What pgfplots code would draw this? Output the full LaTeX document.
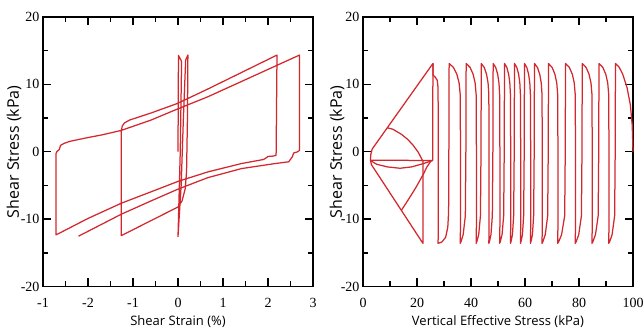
\documentclass[border=0pt]{standalone}
\usepackage{pgfplots}
\pgfplotsset{compat=1.18}
\usepackage{fontspec}
\setmainfont{Liberation Serif}
\newfontfamily\labelfont{Open Sans}
\definecolor{curve}{RGB}{210,40,45}
\pgfplotsset{
  myax/.style={
    scale only axis, width=270pt, height=269.5pt,
    ymin=-20, ymax=20, ytick={-20,-10,0,10,20}, yticklabels={-20,-10,0,10,20},
    tick align=inside, major tick length=8pt, minor tick length=5pt,
    every tick/.append style={line width=1.5pt, draw=black},
    axis line style={line width=1.4pt},
    ticklabel style={font=\fontsize{14}{14}\selectfont},
    xticklabel style={yshift=-8pt},
    xlabel style={font=\labelfont\fontsize{13}{13}\selectfont, at={(axis description cs:0.5,-0.13)}, anchor=center},
    ylabel style={font=\labelfont\fontsize{16}{16}\selectfont, anchor=center},
    clip=false,
  },
  mycurve/.style={curve, line width=1.25pt, mark=none, line join=round},
  tickfill/.style={fill=black, draw=none, mark=none, forget plot},
}
% vertical tick as a thin filled bar: x, half width, y0, y1
\newcommand{\vtick}[4]{\addplot[tickfill] table[row sep=\\, x expr=\thisrow{a}+(#1), y=b] {a b\\ -#2 #3\\ #2 #3\\ #2 #4\\ -#2 #4\\};}
% horizontal tick as a thin filled bar: y, half height, x0, x1
\newcommand{\htick}[4]{\addplot[tickfill] table[row sep=\\, x=a, y expr=\thisrow{b}+(#1)] {a b\\ #3 -#2\\ #4 -#2\\ #4 #2\\ #3 #2\\};}
\begin{document}
\begin{tikzpicture}
\path (0,0) rectangle (644pt,336pt);
\begin{axis}[myax, at={(43pt,49.5pt)}, anchor=south west,
  xmin=-3, xmax=3, xtick={-3,-2,-1,0,1,2,3}, xticklabels={-1,-2,-1,0,1,2,3},
  minor xtick={-2.5,-1.5,-0.5,0.5,1.5,2.5}, minor ytick={-15,-5,5,15},
  xlabel={Shear Strain (\%)}, ylabel={Shear Stress (kPa)},
  ylabel style={at={(axis description cs:-0.107,0.5)}}]
\pgfplotsinvokeforeach{-2,-1,0,1,2}{\vtick{#1}{0.0167}{-20}{-18.81}\vtick{#1}{0.0167}{20}{18.81}}
\pgfplotsinvokeforeach{-2.5,-1.5,-0.5,0.5,1.5,2.5}{\vtick{#1}{0.0167}{-20}{-19.26}\vtick{#1}{0.0167}{20}{19.26}}
\pgfplotsinvokeforeach{-10,0,10}{\htick{#1}{0.111}{-3}{-2.822}\htick{#1}{0.111}{3}{2.822}}
\pgfplotsinvokeforeach{-15,-5,5,15}{\htick{#1}{0.111}{-3}{-2.889}\htick{#1}{0.111}{3}{2.889}}
\addplot[mycurve] coordinates {
(0,0) (0.01,14.3) (0.08,13.4) (0.05,0) (0.0,-12.6) (0.07,-5) (0.12,5) (0.17,13.6)
(0.22,14.35) (0.21,5) (0.19,-3) (0.16,-5.5) (0.09,-7.3) (0.0,-8.2) (-1.26,-12.45)
(-1.26,3.0) (-1.24,3.8) (-1.19,4.28) (-1.07,4.72) (-0.6,5.75) (-0.02,7.15) (0.66,9.3) (2.2,14.35)
(2.18,-0.55) (2.1,-0.65) (2.0,-0.7) (1.95,-0.95) (1.9,-1.15) (1.41,-1.75) (0.66,-3.0) (0.0,-4.4)
(-0.6,-5.95) (-1.26,-7.64) (-2.0,-9.9) (-2.71,-12.34)
(-2.71,-0.25) (-2.69,0.05) (-2.64,0.3) (-2.61,0.95) (-2.53,1.25) (-2.4,1.55) (-2.05,2.04)
(-1.67,2.53) (-1.26,3.17) (-0.6,4.7) (-0.02,6.32) (0.66,8.15) (1.5,10.7) (2.7,14.35)
(2.7,0.2) (2.65,-0.03) (2.57,-0.18) (2.54,-0.76) (2.46,-1.49) (2.16,-1.75) (1.41,-2.5)
(0.66,-3.85) (0.0,-5.55) (-0.6,-7.3) (-1.26,-9.27) (-2.21,-12.53)
};
\end{axis}
\begin{axis}[myax, at={(363pt,49.5pt)}, anchor=south west,
  xmin=0, xmax=100, xtick={0,20,40,60,80,100}, xticklabels={0,20,40,60,80,100},
  minor xtick={10,30,50,70,90}, minor ytick={-15,-5,5,15},
  xlabel={Vertical Effective Stress (kPa)}, ylabel={Shear Stress (kPa)},
  ylabel style={at={(axis description cs:-0.096,0.5)}}]
\pgfplotsinvokeforeach{20,40,60,80}{\vtick{#1}{0.278}{-20}{-18.81}\vtick{#1}{0.278}{20}{18.81}}
\pgfplotsinvokeforeach{10,30,50,70,90}{\vtick{#1}{0.278}{-20}{-19.26}\vtick{#1}{0.278}{20}{19.26}}
\pgfplotsinvokeforeach{-10,0,10}{\htick{#1}{0.111}{0}{2.963}\htick{#1}{0.111}{100}{97.04}}
\pgfplotsinvokeforeach{-15,-5,5,15}{\htick{#1}{0.111}{0}{1.852}\htick{#1}{0.111}{100}{98.15}}
\addplot[mycurve] coordinates {
(100,0) (99.7,4) (99.0,7) (97.8,9.5) (96.2,11.5) (94.8,12.6) (93.5,13.1)
(93.4,0) (93.2,-9.5) (92.25,-12.3) (91.4,-13.3) (91.0,-13.6)
(91.1,-11) (91.1,0) (91.0,8.5) (90.64,10.2) (89.92,11.5) (88.84,12.5) (87.4,13.1)
(87.3,0) (87.1,-9.5) (86.1,-12.3) (85.19,-13.3) (84.8,-13.6)
(84.9,-11) (84.9,0) (84.8,8.5) (84.44,10.2) (83.72,11.5) (82.64,12.5) (81.2,13.1)
(81.1,0) (80.9,-9.5) (79.9,-12.3) (78.99,-13.3) (78.6,-13.6)
(78.7,-11) (78.7,0) (78.6,8.5) (78.24,10.2) (77.52,11.5) (76.44,12.5) (75.0,13.1)
(74.9,0) (74.7,-9.5) (73.55,-12.3) (72.54,-13.3) (72.1,-13.6)
(72.2,-11) (72.2,0) (72.1,8.5) (71.76,10.2) (71.08,11.5) (70.06,12.5) (68.7,13.1)
(68.6,0) (68.4,-9.5) (67.5,-12.3) (66.66,-13.3) (66.3,-13.6)
(66.4,-11) (66.4,0) (66.3,8.5) (66.02,10.2) (65.46,11.5) (64.62,12.5) (63.5,13.1)
(63.4,0) (63.2,-9.5) (62.75,-12.3) (62.23,-13.3) (62.0,-13.6)
(62.1,-11) (62.1,0) (62.0,8.5) (61.78,10.2) (61.34,11.5) (60.68,12.5) (59.8,13.1)
(59.7,0) (59.5,-9.5) (59.05,-12.3) (58.53,-13.3) (58.3,-13.6)
(58.4,-11) (58.4,0) (58.3,8.5) (58.08,10.2) (57.64,11.5) (56.98,12.5) (56.1,13.1)
(56.0,0) (55.8,-9.5) (55.35,-12.3) (54.83,-13.3) (54.6,-13.6)
(54.7,-11) (54.7,0) (54.6,8.5) (54.38,10.2) (53.94,11.5) (53.28,12.5) (52.4,13.1)
(52.3,0) (52.1,-9.5) (51.5,-12.3) (50.87,-13.3) (50.6,-13.6)
(50.7,-11) (50.7,0) (50.6,8.5) (50.36,10.2) (49.88,11.5) (49.16,12.5) (48.2,13.1)
(48.1,0) (47.9,-9.5) (47.4,-12.3) (46.84,-13.3) (46.6,-13.6)
(46.7,-11) (46.7,0) (46.6,8.5) (46.32,10.2) (45.76,11.5) (44.92,12.5) (43.8,13.1)
(43.7,0) (43.5,-9.5) (42.85,-12.3) (42.19,-13.3) (41.9,-13.6)
(42.0,-11) (42.0,0) (41.9,8.5) (41.53,10.2) (40.79,11.5) (39.68,12.5) (38.2,13.1)
(38.1,0) (37.9,-9.5) (37.1,-12.3) (36.33,-13.3) (36.0,-13.6)
(36.1,-11) (36.1,0) (36.0,8.5) (35.59,10.2) (34.77,11.5) (33.54,12.5) (31.9,13.1)
(31.8,0) (31.7,-9) (31.4,-11.2) (30.6,-12.7) (29.2,-13.4) (27.8,-13.6)
(27.9,-11) (27.9,0) (27.8,9.5) (27.5,10.6) (26.7,11.1) (25.9,11.4) (25.9,13.1)
(3.4,0.4) (2.9,-0.4) (2.75,-1.2) (3.1,-1.9) (22.2,-13.6) (22.2,-1.5)
};
\addplot[mycurve] coordinates {(25.9,13.1) (25.8,-1.3)};
\addplot[mycurve] coordinates {(2.75,-1.25) (25.8,-1.3)};
\addplot[mycurve] coordinates {(2.75,-1.3) (5,-1.85) (9,-2.25) (13.7,-2.45) (18,-2.25) (22,-1.8) (25.8,-1.3)};
\addplot[mycurve] coordinates {(9.0,3.56) (11,3.35) (14.2,2.6) (16.5,1.85) (18.5,1.0) (20.5,-0.1) (22.3,-1.5)};
\addplot[mycurve] coordinates {(14.2,-8.7) (16,-7.6) (17.9,-6.4) (19.6,-5.3) (21.0,-4.3) (22.4,-3.3) (23.6,-2.3) (25.3,-1.3)};
\end{axis}
\pgfresetboundingbox
\path[use as bounding box] (0,0) rectangle (644pt,336pt);
\end{tikzpicture}
\end{document}
